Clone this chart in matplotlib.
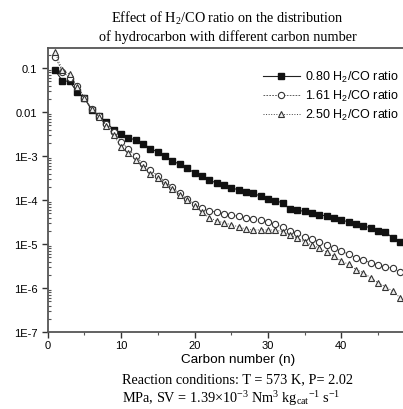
import matplotlib
matplotlib.use("Agg")
import matplotlib.pyplot as plt
import numpy as np
from matplotlib.ticker import FixedLocator, LogLocator, NullFormatter

# carbon numbers
carbon = np.arange(1, 49)

# log10 of fraction
log_080 = [-1.05, -1.29, -1.30, -1.55, -1.68, -1.96, -2.09, -2.23, -2.41, -2.50,
           -2.58, -2.64, -2.72, -2.83, -2.91, -3.00, -3.11, -3.19, -3.28, -3.38,
           -3.46, -3.55, -3.61, -3.65, -3.72, -3.77, -3.82, -3.85, -3.91, -3.97,
           -4.02, -4.06, -4.21, -4.23, -4.26, -4.29, -4.34, -4.36, -4.40, -4.45,
           -4.50, -4.55, -4.59, -4.63, -4.70, -4.73, -4.86, -4.96]
log_161 = [-0.74, -1.08, -1.22, -1.40, -1.68, -1.92, -2.10, -2.27, -2.45, -2.68,
           -2.84, -3.01, -3.17, -3.32, -3.45, -3.58, -3.71, -3.85, -3.97, -4.09,
           -4.19, -4.24, -4.28, -4.31, -4.34, -4.37, -4.40, -4.43, -4.46, -4.49,
           -4.55, -4.62, -4.70, -4.76, -4.85, -4.89, -4.95, -5.02, -5.10, -5.16,
           -5.23, -5.31, -5.36, -5.43, -5.47, -5.52, -5.55, -5.63]
log_250 = [-0.64, -1.05, -1.14, -1.42, -1.67, -1.93, -2.12, -2.31, -2.52, -2.80,
           -2.93, -3.10, -3.26, -3.40, -3.50, -3.63, -3.75, -3.88, -4.00, -4.14,
           -4.28, -4.40, -4.47, -4.52, -4.56, -4.61, -4.66, -4.68, -4.68, -4.68,
           -4.68, -4.72, -4.80, -4.86, -4.96, -5.02, -5.09, -5.18, -5.28, -5.39,
           -5.46, -5.58, -5.65, -5.77, -5.88, -5.97, -6.07, -6.22]

ytick_vals = [1e-7, 1e-6, 1e-5, 1e-4, 1e-3, 1e-2, 1e-1]
ytick_labels = ["1E-7", "1E-6", "1E-5", "1E-4", "1E-3", "0.01", "0.1"]

plt.rcParams["font.family"] = ["Liberation Sans", "DejaVu Sans"]
plt.rcParams["mathtext.default"] = "regular"

fig = plt.figure(figsize=(4.03, 4.10), dpi=100)
ax = fig.add_axes([47.7 / 403, 1 - 333 / 410, 1 - 47.7 / 403, (333 - 49) / 410])

ax.plot(carbon, 10 ** np.array(log_080), "-", color="#222222", lw=0.8,
        marker="s", ms=4, mfc="#111111", mec="#111111",
        label="0.80 H$_2$/CO ratio")
ax.plot(carbon, 10 ** np.array(log_161), "--", color="#444444", lw=0.6,
        dashes=(2, 1.5), marker="o", ms=4.5, mfc="white", mec="#333333", mew=0.8,
        label="1.61 H$_2$/CO ratio")
ax.plot(carbon, 10 ** np.array(log_250), ":", color="#444444", lw=0.7,
        marker="^", ms=5, mfc="#eeeeee", mec="#333333", mew=0.8,
        label="2.50 H$_2$/CO ratio")

ax.set_yscale("log")
ax.set_xlim(0, 48.4)
ax.set_ylim(1e-7, 0.286)

ax.set_xticks([0, 10, 20, 30, 40])
ax.xaxis.set_minor_locator(FixedLocator([5, 15, 25, 35, 45]))
ax.set_yticks(ytick_vals)
ax.set_yticklabels(ytick_labels)
ax.yaxis.set_minor_locator(LogLocator(base=10, subs=np.arange(2, 10)))
ax.yaxis.set_minor_formatter(NullFormatter())

ax.tick_params(axis="both", which="major", labelsize=8, color="#333333",
               direction="out", length=4, width=1)
ax.tick_params(axis="x", which="major", pad=2)
ax.tick_params(axis="both", which="minor", color="#555555",
               direction="out", length=2.5, width=0.8)
ax.tick_params(axis="y", which="minor", direction="in", length=2.5)

for s in ax.spines.values():
    s.set_color("#555555")
    s.set_linewidth(1.3)
ax.spines["right"].set_visible(False)

ax.set_xlabel("Carbon number (n)", fontsize=9.7)
ax.xaxis.set_label_coords(0.536, -0.075)

ax.legend(loc="upper right", bbox_to_anchor=(1.02, 0.965), frameon=False,
          fontsize=9, handlelength=3, handletextpad=0.4, labelspacing=0.3)

fig.text(0.565, 0.975, "Effect of H$_2$/CO ratio on the distribution\n"
         "of hydrocarbon with different carbon number",
         ha="center", va="top", fontsize=10.3, family="Liberation Serif",
         linespacing=1.25)

fig.text(0.589, 0.073, "Reaction conditions: T = 573 K, P= 2.02",
         ha="center", va="center", fontsize=10.3, family="Liberation Serif")
fig.text(0.575, 0.028,
         r"MPa, SV = 1.39$\times$10$^{-3}$ Nm$^{3}$ kg$_{cat}$$^{-1}$ s$^{-1}$",
         ha="center", va="center", fontsize=10.3, family="Liberation Serif")

fig.savefig("out.png", dpi=100)
